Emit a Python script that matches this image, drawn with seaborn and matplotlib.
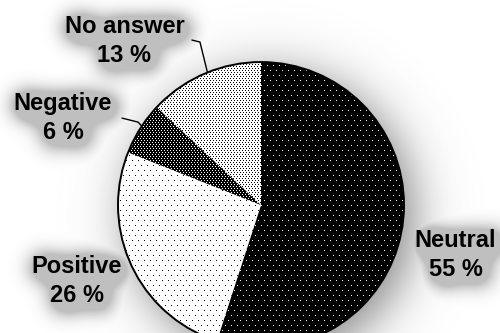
import numpy as np
import matplotlib
matplotlib.use("Agg")
import matplotlib.pyplot as plt
from matplotlib.patches import Circle
import seaborn as sns

categories = ["Neutral", "Positive", "Negative", "No answer"]
values = [55, 26, 6, 13]
pct_labels = ["55 %", "26 %", "6 %", "13 %"]

sns.set_style("white")
plt.rcParams["font.family"] = ["Liberation Sans", "DejaVu Sans"]

W, H = 500, 333
XL = (-1.825, 1.671)
YL = (-0.895, 1.434)
ext = (XL[0], XL[1], YL[0], YL[1])

label_pos = {
    "Neutral": (1.36, -0.35),
    "Positive": (-1.29, -0.53),
    "Negative": (-1.385, 0.61),
    "No answer": (-0.955, 1.145),
}
text_kw = dict(ha="center", va="center", fontsize=17, fontweight="bold",
               linespacing=1.32, color="black", zorder=5)


def make_axes(f):
    a = f.add_axes([0, 0, 1, 1])
    a.set_xlim(*XL)
    a.set_ylim(*YL)
    a.set_aspect("equal")
    a.axis("off")
    return a


def draw_labels(a):
    out = []
    for cat, pl in zip(categories, pct_labels):
        x, y = label_pos[cat]
        out.append(a.text(x, y, f"{cat}\n{pl}", **text_kw))
    return out


def blur(img, sigma):
    r = int(3 * sigma)
    k = np.exp(-0.5 * (np.arange(-r, r + 1) / sigma) ** 2)
    k /= k.sum()
    p = np.pad(img, r, mode="constant")
    p = np.apply_along_axis(lambda v: np.convolve(v, k, mode="valid"), 1, p)
    p = np.apply_along_axis(lambda v: np.convolve(v, k, mode="valid"), 0, p)
    return p


# text mask for the soft halo (rendered off-screen)
fig_m = plt.figure(figsize=(5.0, 3.33), dpi=100)
ax_m = make_axes(fig_m)
draw_labels(ax_m)
fig_m.canvas.draw()
buf = np.asarray(fig_m.canvas.buffer_rgba())[:H, :W, 0].astype(float) / 255.0
plt.close(fig_m)
tmask = 1.0 - buf  # rows from top
tmask = np.roll(np.roll(tmask, 4, axis=0), 4, axis=1)
halo = blur(tmask, 11.0)
halo = 1.0 * halo / halo.max()
halo = np.clip(halo, 0, 0.36)

fig = plt.figure(figsize=(5.0, 3.33), dpi=100)
ax = make_axes(fig)

wedges, _ = ax.pie(values, startangle=90, counterclock=False, radius=1.0,
                   center=(0, 0), colors=["none"] * 4,
                   wedgeprops=dict(linewidth=0, zorder=2))
ax.set_xlim(*XL)
ax.set_ylim(*YL)


def texture(base, dot, sx, sy):
    img = np.empty((H, W, 3))
    img[...] = base
    rows = np.arange(H)[:, None]
    cols = np.arange(W)[None, :]
    shift = ((rows // sy) % 2) * (sx // 2)
    mask = (rows % sy == 0) & ((cols + shift) % sx == 0)
    img[mask] = dot
    return img

tex_specs = [(0.0, 1.0, 6, 5),   # Neutral: black, white dots
             (1.0, 0.0, 6, 5),   # Positive: white, black dots
             (0.0, 1.0, 3, 2),   # Negative: black, dense white dots
             (1.0, 0.0, 3, 2)]   # No answer: white, dense black dots
for w, (b, dt, sx, sy) in zip(wedges, tex_specs):
    im = ax.imshow(texture(b, dt, sx, sy), extent=ext, origin="upper",
                   interpolation="nearest", zorder=2)
    im.set_clip_path(w)
ax.add_patch(Circle((0, 0), 1.0, fill=False, edgecolor="black", lw=1.4, zorder=3))

draw_labels(ax)


def edge_point(w, frac):
    th = np.deg2rad(w.theta1 + (w.theta2 - w.theta1) * frac)
    return np.cos(th), np.sin(th)

ex, ey = edge_point(wedges[3], 0.47)
ax.plot([-0.483, -0.427, ex], [1.154, 1.14, ey], color="black", lw=1, zorder=4)
ex, ey = edge_point(wedges[2], 0.45)
ax.plot([-0.972, -0.86, ex], [0.608, 0.58, ey], color="black", lw=1, zorder=4)

# soft pie shadow in pixel space (rows from top)
px = np.arange(W)[None, :] + 0.5
py = np.arange(H)[:, None] + 0.5
cxd, cyd = ax.transData.transform((0, 0))
rad = ax.transData.transform((1, 0))[0] - cxd
cy_top = H - cyd
dist = np.hypot(px - (cxd + 10), py - (cy_top + 10))
alpha = 0.65 / (1.0 + np.exp((dist - rad) / 14.0))
alpha = np.maximum(alpha, halo)
rgba = np.zeros((H, W, 4))
rgba[..., :3] = 0.3
rgba[..., 3] = alpha
ax.imshow(rgba, extent=ext, origin="upper", zorder=0, interpolation="bilinear")
ax.set_xlim(*XL)
ax.set_ylim(*YL)

fig.savefig("out.png", dpi=100)
